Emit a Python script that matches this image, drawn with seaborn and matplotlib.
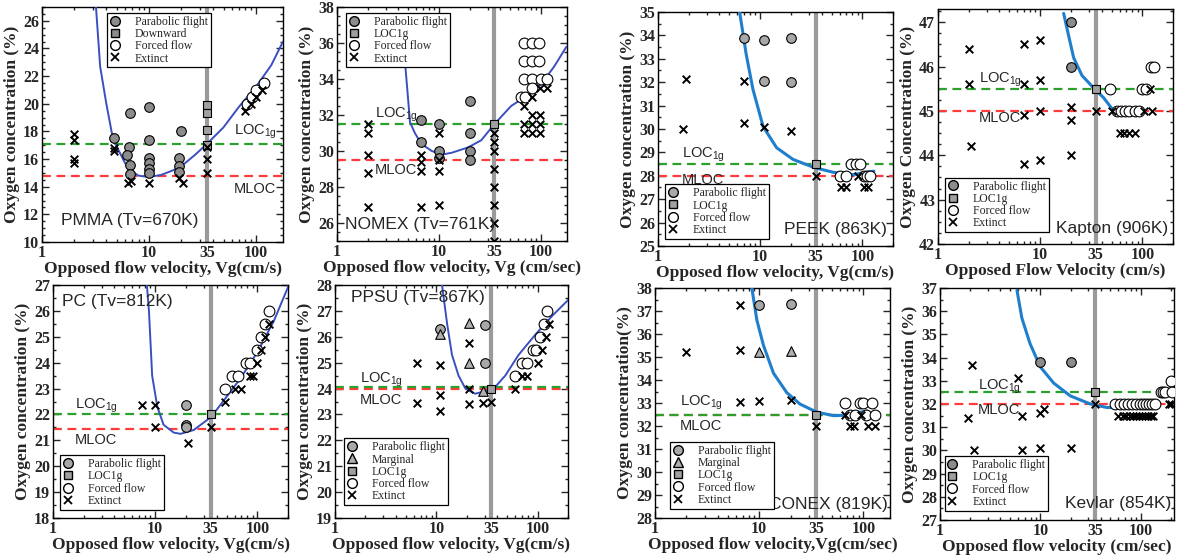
import matplotlib
matplotlib.use("Agg")
import matplotlib.pyplot as plt
import seaborn as sns
import numpy as np
from matplotlib.lines import Line2D
from matplotlib.ticker import FixedLocator, FixedFormatter, LogLocator, NullFormatter, MultipleLocator

sns.set_theme(style="ticks")
plt.rcParams['font.family'] = ['Liberation Serif', 'DejaVu Serif']

# ---------------- DATA ----------------
x_ticks = [1, 10, 35, 100]
x_tick_labels = ["1", "10", "35", "100"]

# PMMA
pmma_curve_x = [3.2, 3.5, 4, 4.5, 5, 6, 7, 8, 10, 13, 17, 21, 27, 35, 50, 70, 100, 140, 180]
pmma_curve_y = [27.0, 22.7, 20.0, 17.9, 16.9, 15.7, 15.1, 14.8, 14.7, 14.85, 15.2, 15.6, 16.3, 17.1, 18.3, 19.8, 21.2, 22.8, 24.5]
pmma_para_x = [4.7, 6.6, 6.5, 6.2, 6.7, 6.6, 10, 10, 10, 10, 10, 10, 20, 19, 19, 19]
pmma_para_y = [17.5, 19.3, 16.9, 16.3, 15.6, 14.9, 19.8, 17.4, 16.1, 15.7, 15.3, 15.0, 18.0, 16.1, 15.5, 15.1]
pmma_down_x = [35, 35, 35, 35]
pmma_down_y = [19.9, 19.3, 18.1, 17.0]
pmma_forced_x = [82, 92, 100, 120]
pmma_forced_y = [20.0, 20.5, 21.0, 21.5]
pmma_ext_x = [2, 2, 2, 2, 4.7, 4.7, 6.4, 6.8, 10, 19, 21, 35, 35, 35, 80, 90, 100, 115]
pmma_ext_y = [17.8, 17.4, 16.0, 15.7, 16.8, 16.6, 14.3, 14.4, 14.3, 14.6, 14.3, 16.9, 16.0, 15.0, 19.5, 20.0, 20.5, 21.0]

# NOMEX
nomex_curve_x = [4.4, 4.65, 5.2, 5.8, 6.7, 8.5, 10.6, 13.3, 19.3, 26, 35, 51, 74, 100, 135, 178]
nomex_curve_y = [37.5, 34.9, 31.6, 31.0, 30.4, 30.0, 29.8, 29.9, 30.2, 30.6, 31.5, 32.5, 33.1, 33.7, 34.7, 35.8]
nomex_para_x = [6.6, 6.6, 10, 10, 10, 20, 20, 20, 20]
nomex_para_y = [31.7, 30.5, 31.5, 30.0, 29.6, 32.8, 31.0, 30.0, 29.5]
nomex_loc_x = [35]
nomex_loc_y = [31.5]
nomex_forced_x = [68, 82, 95, 68, 82, 95, 68, 82, 100, 115, 64, 70, 82]
nomex_forced_y = [36, 36, 36, 35, 35, 35, 34, 34, 34, 34, 33, 33, 33.5]
nomex_ext_x = [2, 2, 2, 2, 2, 6.6, 6.6, 6.6, 6.6, 10, 10, 10, 10,
               35, 35, 35, 35, 35, 35, 35, 35,
               68, 68, 68, 82, 82, 82, 82, 97, 97, 97, 97, 115]
nomex_ext_y = [31.5, 31.0, 29.8, 28.8, 26.9, 29.8, 29.4, 28.9, 26.9, 31.0, 29.5, 28.9, 27.0,
               31.0, 30.5, 30.0, 29.0, 28.0, 27.0, 26.0, 25.0,
               32.5, 31.5, 31.0, 33.0, 32.0, 31.5, 31.0, 33.5, 32.0, 31.5, 31.0, 33.5]

# PEEK
peek_curve_x = [6.3, 7.3, 8.5, 10.7, 14.5, 21, 34, 52, 81, 130]
peek_curve_y = [35.0, 33.2, 31.7, 30.1, 29.2, 28.7, 28.35, 28.15, 28.05, 28.2]
peek_para_x = [7, 11, 20, 11, 20]
peek_para_y = [33.9, 33.8, 33.9, 32.05, 32.0]
peek_loc_x = [35]
peek_loc_y = [28.5]
peek_forced_x = [78, 86, 95, 60, 70, 105, 112, 120]
peek_forced_y = [28.5, 28.5, 28.5, 28.0, 28.0, 28.0, 28.0, 28.0]
peek_ext_x = [1.9, 7, 1.75, 7, 11, 20, 35, 62, 70, 105, 115, 90]
peek_ext_y = [32.15, 32.05, 30.0, 30.25, 30.1, 29.9, 28.0, 27.5, 27.5, 27.5, 27.5, 28.0]

# Kapton
kapton_curve_x = [17, 19, 21.3, 25.7, 34, 41.8, 50.6]
kapton_curve_y = [47.2, 46.7, 46.2, 45.8, 45.5, 45.3, 45.05]
kapton_para_x = [20, 20]
kapton_para_y = [47.0, 46.0]
kapton_loc_x = [35]
kapton_loc_y = [45.5]
kapton_forced_x = [48, 100, 108, 122, 130, 56, 62, 68, 75, 84, 92]
kapton_forced_y = [45.5, 45.5, 45.5, 46.0, 46.0, 45.0, 45.0, 45.0, 45.0, 45.0, 45.0]
kapton_ext_x = [2, 2, 2.1, 7, 7, 7, 7, 10, 10, 10, 10, 20, 20, 20, 35, 50, 105, 125, 118,
                60, 67, 75, 84]
kapton_ext_y = [46.4, 45.6, 44.2, 46.5, 45.6, 44.9, 43.8, 46.6, 45.7, 45.0, 43.9, 45.1, 44.8, 44.0, 45.0, 45.0, 45.0, 45.0, 45.5,
                44.5, 44.5, 44.5, 44.5]

# PC
pc_curve_x = [8.3, 8.7, 9.35, 10.5, 12.1, 15.2, 17.7, 23.9, 35.3, 50.5, 68.7, 100, 145, 204]
pc_curve_y = [27.0, 26.0, 23.5, 22.3, 21.6, 21.3, 21.25, 21.4, 21.9, 22.7, 23.4, 24.4, 25.6, 27.0]
pc_para_x = [20, 20, 20]
pc_para_y = [22.35, 21.6, 21.5]
pc_loc_x = [35]
pc_loc_y = [22.0]
pc_forced_x = [48, 57, 65, 78, 85, 100, 110, 120, 130]
pc_forced_y = [23.0, 23.5, 23.5, 24.0, 24.0, 24.5, 25.0, 25.5, 26.0]
pc_ext_x = [7.5, 10, 10, 21, 35, 48, 60, 70, 85, 90, 100, 110, 118, 130]
pc_ext_y = [22.35, 22.35, 21.5, 20.9, 21.5, 22.5, 23.0, 23.0, 23.5, 23.5, 24.0, 24.5, 25.0, 25.5]

# PPSU
ppsu_curve_x = [11.4, 12.8, 14.3, 16.6, 19.4, 24.3, 30.5, 37, 48, 65, 96, 139, 204]
ppsu_curve_y = [28.0, 26.5, 25.3, 24.5, 24.0, 23.8, 23.9, 24.0, 24.5, 25.3, 26.1, 26.8, 27.45]
ppsu_para_x = [11, 30, 30]
ppsu_para_y = [26.3, 26.45, 25.0]
ppsu_marg_x = [11, 21, 21, 29]
ppsu_marg_y = [26.1, 26.55, 25.0, 23.9]
ppsu_loc_x = [35]
ppsu_loc_y = [24.0]
ppsu_forced_x = [60, 70, 78, 90, 97, 105, 115, 125]
ppsu_forced_y = [24.5, 25.0, 25.0, 25.5, 25.5, 26.0, 26.5, 27.0]
ppsu_ext_x = [6.5, 6.5, 11, 11, 11, 21, 21, 21, 29, 35, 60, 70, 78, 100, 110, 120, 130]
ppsu_ext_y = [25.0, 23.45, 24.9, 23.75, 23.15, 25.75, 24.0, 23.4, 23.45, 23.5, 24.0, 24.5, 24.5, 25.0, 25.5, 26.0, 26.5]

# CONEX
conex_curve_x = [8.5, 9.5, 11, 13.7, 18.4, 24.7, 35.8, 51.7, 69.5, 93.5, 108]
conex_curve_y = [38.0, 36.6, 35.5, 34.3, 33.45, 32.95, 32.6, 32.45, 32.47, 32.6, 32.65]
conex_para_x = [10, 20]
conex_para_y = [37.25, 37.3]
conex_marg_x = [10, 20]
conex_marg_y = [35.2, 35.25]
conex_loc_x = [35]
conex_loc_y = [32.5]
conex_forced_x = [67, 92, 100, 120, 75, 83, 105, 130]
conex_forced_y = [33.0, 33.0, 33.0, 33.0, 32.5, 32.5, 32.5, 32.5]
conex_ext_x = [2, 6.5, 6.5, 6.5, 10, 20, 35, 67, 95, 75, 82, 110, 130]
conex_ext_y = [35.2, 37.25, 35.3, 33.05, 33.1, 33.15, 32.0, 32.5, 32.5, 32.0, 32.0, 32.0, 32.0]

# Kevlar
kevlar_curve_x = [5.85, 6.55, 7.9, 10, 13.6, 19.9, 31.6, 46, 68]
kevlar_curve_y = [36.9, 35.7, 34.6, 33.6, 32.9, 32.35, 32.0, 31.85, 31.83]
kevlar_para_x = [10, 20]
kevlar_para_y = [33.8, 33.8]
kevlar_loc_x = [35]
kevlar_loc_y = [32.5]
kevlar_forced_x = [55, 62, 68, 75, 82, 90, 98, 106, 114, 122, 130, 138, 160, 168, 176, 200, 205]
kevlar_forced_y = [32.0, 32.0, 32.0, 32.0, 32.0, 32.0, 32.0, 32.0, 32.0, 32.0, 32.0, 32.0, 32.5, 32.5, 32.5, 33.0, 32.5]
kevlar_ext_x = [2.1, 6, 1.9, 6.5, 10, 11, 2.2, 6.5, 10, 20, 35,
                60, 66, 72, 78, 84, 90, 96, 102, 110, 118, 126, 134, 190, 200]
kevlar_ext_y = [33.7, 33.1, 31.4, 31.5, 31.6, 31.8, 30.0, 30.0, 30.1, 30.1, 32.0,
                31.5, 31.5, 31.5, 31.5, 31.5, 31.5, 31.5, 31.5, 31.5, 31.5, 31.5, 31.5, 32.0, 32.0]

# ---------------- STYLE ----------------
W, H = 1180, 556
fig = plt.figure(figsize=(W / 100, H / 100), dpi=100)


def axes_px(l, r, t, b):
    return fig.add_axes([l / W, (H - b) / H, (r - l) / W, (b - t) / H])


BLUE1 = "#3a4fc0"
BLUE2 = "#1f7fcc"
GREEN = "#2ca02c"
RED = "#ff3b3b"
GRAY_LINE = "#9a9a9a"
SERIF = ['Liberation Serif', 'DejaVu Serif']
SANS = ['Liberation Sans', 'DejaVu Sans']

LEG_STYLE = {
    "Parabolic flight": dict(marker="o", mfc="#8c8c8c", mec="black", ms=7, ls="none"),
    "Downward": dict(marker="s", mfc="#8c8c8c", mec="black", ms=6, ls="none"),
    "LOC1g": dict(marker="s", mfc="#a0a0a0", mec="black", ms=6, ls="none"),
    "Marginal": dict(marker="^", mfc="#b0b0b0", mec="black", ms=7, ls="none"),
    "Forced flow": dict(marker="o", mfc="white", mec="black", ms=7, ls="none"),
    "Extinct": dict(marker="x", color="black", mew=1.3, ms=6, ls="none"),
}


def draw_panel(ax, ylim, ymajor, yminor, xmax, curve, curve_color, curve_lw,
               loc_y, mloc_y, groups, legend_labels, legend_anchor, legend_loc,
               title, title_xy, title_ha, loc_lab_xy, mloc_lab_xy, xlabel, ylabel,
               para_color="#8c8c8c"):
    ax.set_xscale("log")
    ax.set_xlim(1, xmax)
    ax.set_ylim(*ylim)
    # reference lines
    ax.axhline(mloc_y, color=RED, ls=(0, (4, 2.5)), lw=1.6, zorder=2)
    ax.axhline(loc_y, color=GREEN, ls=(0, (4, 2.5)), lw=1.6, zorder=2)
    ax.axvline(35, color=GRAY_LINE, lw=3, zorder=1)
    # fitted curve
    sns.lineplot(x=curve[0], y=curve[1], ax=ax, color=curve_color, lw=curve_lw,
                 sort=False, estimator=None, zorder=3)
    # points
    for kind, gx, gy in groups:
        if kind == "para":
            sns.scatterplot(x=gx, y=gy, ax=ax, marker="o", s=48, color=para_color,
                            edgecolor="black", linewidth=0.8, zorder=5)
        elif kind in ("down", "loc"):
            sns.scatterplot(x=gx, y=gy, ax=ax, marker="s", s=36, color="#a0a0a0",
                            edgecolor="black", linewidth=0.8, zorder=5)
        elif kind == "marg":
            sns.scatterplot(x=gx, y=gy, ax=ax, marker="^", s=48, color="#b0b0b0",
                            edgecolor="black", linewidth=0.8, zorder=5)
        elif kind == "forced":
            sns.scatterplot(x=gx, y=gy, ax=ax, marker="o", s=60, color="white",
                            edgecolor="black", linewidth=0.8, zorder=4)
        elif kind == "ext":
            sns.scatterplot(x=gx, y=gy, ax=ax, marker="x", s=30, color="black",
                            linewidth=1.4, zorder=6)
    # ticks
    ax.xaxis.set_major_locator(FixedLocator(x_ticks))
    ax.xaxis.set_major_formatter(FixedFormatter(x_tick_labels))
    ax.xaxis.set_minor_locator(LogLocator(base=10, subs=np.arange(2, 10)))
    ax.xaxis.set_minor_formatter(NullFormatter())
    ax.yaxis.set_major_locator(MultipleLocator(ymajor))
    ax.yaxis.set_minor_locator(MultipleLocator(yminor))
    ax.tick_params(which="both", direction="in", top=True, right=True, width=1.0)
    ax.tick_params(which="major", length=5, labelsize=11.5, pad=2)
    ax.tick_params(which="minor", length=2.5)
    for lab in ax.get_xticklabels() + ax.get_yticklabels():
        lab.set_fontweight("bold")
        lab.set_family(SERIF)
    for sp in ax.spines.values():
        sp.set_linewidth(1.0)
        sp.set_color("black")
    ax.set_xlabel(xlabel, fontsize=12.5, fontweight="bold", family=SERIF, labelpad=0)
    ax.set_ylabel(ylabel, fontsize=12.5, fontweight="bold", family=SERIF, labelpad=2)
    # texts
    ax.text(title_xy[0], title_xy[1], title, transform=ax.transAxes, ha=title_ha,
            va="center", fontsize=12.5, family=SANS, zorder=8)
    ax.text(loc_lab_xy[0], loc_lab_xy[1], r"LOC$_{\mathregular{1g}}$", ha="left", va="center",
            fontsize=10.5, family=SANS, zorder=8)
    ax.text(mloc_lab_xy[0], mloc_lab_xy[1], "MLOC", ha="left", va="center",
            fontsize=10.5, family=SANS, zorder=8)
    # legend
    handles = [Line2D([0], [0], **LEG_STYLE[l]) for l in legend_labels]
    if "Parabolic flight" in legend_labels:
        handles[0].set_markerfacecolor(para_color)
    leg = ax.legend(handles, legend_labels, loc=legend_loc, bbox_to_anchor=legend_anchor,
                    borderaxespad=0, frameon=True, fancybox=False, framealpha=1,
                    edgecolor="black", handletextpad=1.3,
                    handlelength=0.8, labelspacing=0.02, borderpad=0.25,
                    prop={"family": SERIF, "size": 8.5})
    leg.get_frame().set_linewidth(0.9)
    leg.set_zorder(10)


XL1 = "Opposed flow velocity, Vg(cm/s)"
YL1 = "Oxygen concentration (%)"
L4 = ["Parabolic flight", "LOC1g", "Forced flow", "Extinct"]
L5 = ["Parabolic flight", "Marginal", "LOC1g", "Forced flow", "Extinct"]

# PMMA
ax = axes_px(42, 283, 7, 242)
draw_panel(ax, (10, 27), 2, 0.5, 180, (pmma_curve_x, pmma_curve_y), BLUE1, 1.4,
           17.1, 14.8,
           [("para", pmma_para_x, pmma_para_y), ("down", pmma_down_x, pmma_down_y),
            ("forced", pmma_forced_x, pmma_forced_y), ("ext", pmma_ext_x, pmma_ext_y)],
           ["Parabolic flight", "Downward", "Forced flow", "Extinct"], (0.27, 0.975), "upper left",
           "PMMA (Tv=670K)", (0.08, 0.09), "left", (62, 18.0), (62, 13.8), XL1, YL1)

# NOMEX
ax = axes_px(337, 567, 7, 241)
draw_panel(ax, (25, 38), 2, 0.5, 180, (nomex_curve_x, nomex_curve_y), BLUE1, 1.4,
           31.5, 29.5,
           [("para", nomex_para_x, nomex_para_y), ("loc", nomex_loc_x, nomex_loc_y),
            ("forced", nomex_forced_x, nomex_forced_y), ("ext", nomex_ext_x, nomex_ext_y)],
           L4, (0.04, 0.975), "upper left",
           "NOMEX (Tv=761K)", (0.035, 0.07), "left", (2.35, 32.0), (2.35, 28.95),
           "Opposed flow velocity, Vg (cm/sec)", YL1)

# PEEK
ax = axes_px(658, 893, 12, 246)
draw_panel(ax, (25, 35), 1, 0.5, 200, (peek_curve_x, peek_curve_y), BLUE2, 2.2,
           28.5, 28.0,
           [("para", peek_para_x, peek_para_y), ("loc", peek_loc_x, peek_loc_y),
            ("forced", peek_forced_x, peek_forced_y), ("ext", peek_ext_x, peek_ext_y)],
           L4, (0.03, 0.03), "lower left",
           "PEEK (863K)", (0.975, 0.07), "right", (1.7, 28.9), (1.7, 27.82), XL1, YL1,
           para_color="#a8a8a8")

# Kapton
ax = axes_px(938, 1173, 9, 244)
draw_panel(ax, (42, 47.3), 1, 0.25, 200, (kapton_curve_x, kapton_curve_y), BLUE2, 2.2,
           45.5, 45.0,
           [("para", kapton_para_x, kapton_para_y), ("loc", kapton_loc_x, kapton_loc_y),
            ("forced", kapton_forced_x, kapton_forced_y), ("ext", kapton_ext_x, kapton_ext_y)],
           L4, (0.03, 0.05), "lower left",
           "Kapton (906K)", (0.98, 0.065), "right", (2.5, 45.7), (2.5, 44.85),
           "Opposed Flow Velocity (cm/s)", "Oxygen Concentration (%)")

# PC
ax = axes_px(53, 288, 285, 518)
draw_panel(ax, (18, 27), 1, 0.5, 200, (pc_curve_x, pc_curve_y), BLUE1, 1.4,
           22.0, 21.45,
           [("para", pc_para_x, pc_para_y), ("loc", pc_loc_x, pc_loc_y),
            ("forced", pc_forced_x, pc_forced_y), ("ext", pc_ext_x, pc_ext_y)],
           L4, (0.03, 0.035), "lower left",
           "PC (Tv=812K)", (0.04, 0.93), "left", (1.65, 22.35), (1.65, 21.0), XL1, YL1,
           para_color="#a8a8a8")

# PPSU
ax = axes_px(335, 568, 285, 518)
draw_panel(ax, (19, 28), 1, 0.5, 200, (ppsu_curve_x, ppsu_curve_y), BLUE1, 1.4,
           24.05, 23.97,
           [("para", ppsu_para_x, ppsu_para_y), ("marg", ppsu_marg_x, ppsu_marg_y),
            ("loc", ppsu_loc_x, ppsu_loc_y),
            ("forced", ppsu_forced_x, ppsu_forced_y), ("ext", ppsu_ext_x, ppsu_ext_y)],
           L5, (0.04, 0.055), "lower left",
           "PPSU (Tv=867K)", (0.07, 0.945), "left", (1.77, 24.35), (1.77, 23.55), XL1, YL1,
           para_color="#a8a8a8")

# CONEX
ax = axes_px(655, 890, 288, 518)
draw_panel(ax, (28, 38), 1, 0.5, 180, (conex_curve_x, conex_curve_y), BLUE2, 2.2,
           32.5, 32.48,
           [("para", conex_para_x, conex_para_y), ("marg", conex_marg_x, conex_marg_y),
            ("loc", conex_loc_x, conex_loc_y),
            ("forced", conex_forced_x, conex_forced_y), ("ext", conex_ext_x, conex_ext_y)],
           L5, (0.065, 0.04), "lower left",
           "CONEX (819K)", (0.99, 0.06), "right", (1.74, 33.0), (1.74, 32.0),
           "Opposed flow velocity,Vg(cm/sec)", "Oxygen concentration(%)",
           para_color="#a8a8a8")

# Kevlar
ax = axes_px(940, 1174, 288, 520)
draw_panel(ax, (27, 37), 1, 0.5, 215, (kevlar_curve_x, kevlar_curve_y), BLUE2, 2.2,
           32.5, 32.0,
           [("para", kevlar_para_x, kevlar_para_y), ("loc", kevlar_loc_x, kevlar_loc_y),
            ("forced", kevlar_forced_x, kevlar_forced_y), ("ext", kevlar_ext_x, kevlar_ext_y)],
           L4, (0.02, 0.04), "lower left",
           "Kevlar (854K)", (0.99, 0.07), "right", (2.4, 32.75), (2.4, 31.75),
           "Opposed flow velocity (cm/sec)", YL1)

fig.savefig("out.png", dpi=100)
